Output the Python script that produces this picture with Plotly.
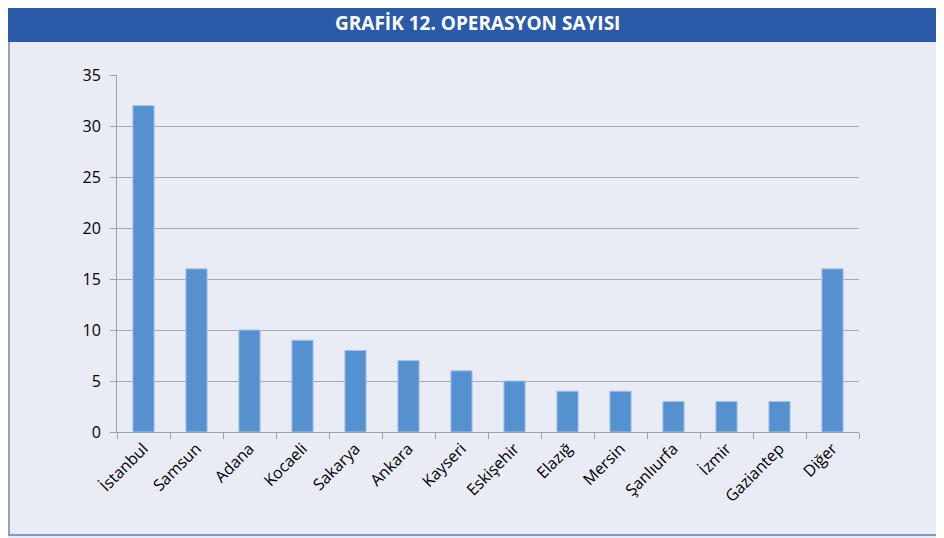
import plotly.graph_objects as go

cities = ["İstanbul", "Samsun", "Adana", "Kocaeli", "Sakarya", "Ankara", "Kayseri",
          "Eskişehir", "Elazığ", "Mersin", "Şanlıurfa", "İzmir", "Gaziantep", "Diğer"]
counts = [32, 16, 10, 9, 8, 7, 6, 5, 4, 4, 3, 3, 3, 16]
y_ticks = [0, 5, 10, 15, 20, 25, 30, 35]
title_text = "GRAFİK 12. OPERASYON SAYISI"

# page has an 8px body margin; work in page pixels and subtract offset
OFF = 8
W, H = 944, 538
PL, PR, PT, PB = 117, 859, 75, 432   # plot area in page pixels
L, T = PL - OFF, PT - OFF
R = W - (PR - OFF)
B = H - (PB - OFF)
pw, ph = PR - PL, PB - PT

def px_x(p):
    return (p - PL) / pw

def px_y(p):
    return (PB - p) / ph

bg = "#E9ECF5"

fig = go.Figure(go.Bar(
    x=cities, y=counts,
    marker=dict(color="#5590CF", line=dict(color="#A9C4E6", width=1)),
))

fig.update_layout(
    width=W, height=H,
    margin=dict(l=L, r=R, t=T, b=B),
    paper_bgcolor=bg, plot_bgcolor=bg,
    bargap=0.6,
    showlegend=False,
    font=dict(family="Open Sans", size=15, color="#111111"),
    shapes=[
        dict(type="rect", xref="paper", yref="paper",
             x0=px_x(0), x1=px_x(980), y0=px_y(42), y1=px_y(0),
             fillcolor="#2B5BA8", line=dict(width=0), layer="below"),
        dict(type="line", xref="paper", yref="paper",
             x0=px_x(9), x1=px_x(9), y0=px_y(535), y1=px_y(42),
             line=dict(color="#555555", width=1)),
        dict(type="line", xref="paper", yref="paper",
             x0=px_x(0), x1=px_x(980), y0=px_y(535), y1=px_y(535),
             line=dict(color="#7D9BD0", width=2)),
    ],
    annotations=[
        dict(text="<b>" + title_text + "</b>", xref="paper", yref="paper",
             x=px_x(477), y=px_y(23), showarrow=False,
             font=dict(family="Open Sans", size=19, color="white"),
             xanchor="center", yanchor="middle"),
    ],
)

fig.update_xaxes(
    showline=True, linecolor="#A0A0A8", linewidth=1,
    ticks="outside", tickson="boundaries", ticklen=6, tickcolor="#A0A0A8",
    tickangle=-45, showgrid=False, tickfont=dict(size=16, color="#000000"),
)
fig.update_yaxes(
    range=[0, 35], tickvals=y_ticks,
    showline=True, linecolor="#A0A0A8", linewidth=1,
    ticks="outside", ticklen=6, tickcolor="#A0A0A8",
    showgrid=True, gridcolor="#A8A8B0", gridwidth=1,
    zeroline=False, ticklabelstandoff=6, tickfont=dict(size=16, color="#000000"),
)

fig.write_html("out.html")
